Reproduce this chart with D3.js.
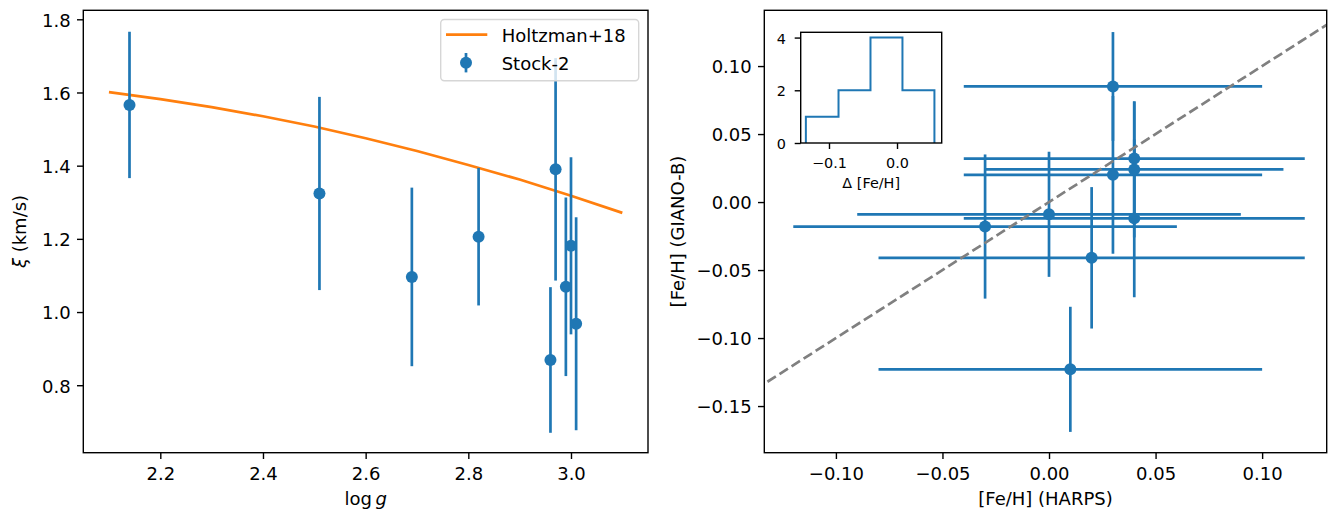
<!DOCTYPE html>
<html>
<head>
<meta charset="utf-8">
<script src="https://cdn.jsdelivr.net/npm/d3@7"></script>
<style>
  body { margin: 0; background: #fff; }
  svg { display: block; }
</style>
</head>
<body>
<svg id="chart" width="1331" height="510"></svg>
<script>
// chart values
// left panel: microturbulence vs log g
var logg = [2.14, 2.51, 2.69, 2.82, 2.96, 2.97, 2.99, 3.00, 3.01];
var xi = [1.566, 1.324, 1.096, 1.206, 0.869, 1.390, 1.069, 1.181, 0.968];
var xiErr = [0.200, 0.264, 0.244, 0.188, 0.199, 0.304, 0.244, 0.242, 0.291];
var holtzLogg = [2.1, 2.2, 2.3, 2.4, 2.5, 2.6, 2.7, 2.8, 2.9, 3.0, 3.1];
var holtzXi = [1.601, 1.582, 1.560, 1.535, 1.507, 1.475, 1.440, 1.402, 1.362, 1.318, 1.271];
var leftXTicks = [2.2, 2.4, 2.6, 2.8, 3.0];
var leftYTicks = [0.8, 1.0, 1.2, 1.4, 1.6, 1.8];

// right panel: [Fe/H] GIANO-B vs HARPS
var harps = [0.03, 0.03, 0.04, 0.04, 0.04, 0.00, -0.03, 0.02, 0.01];
var harpsErr = [0.07, 0.07, 0.08, 0.07, 0.08, 0.09, 0.09, 0.10, 0.09];
var giano = [0.085, 0.020, 0.032, 0.024, -0.012, -0.009, -0.018, -0.041, -0.123];
var gianoErr = [0.040, 0.058, 0.042, 0.050, 0.058, 0.046, 0.053, 0.052, 0.046];
var oneToOne = [-0.2, 0.2];
var rightXTicks = [-0.10, -0.05, 0.00, 0.05, 0.10];
var rightYTicks = [-0.15, -0.10, -0.05, 0.00, 0.05, 0.10];

// inset: histogram of delta [Fe/H]
var histEdges = [-0.134, -0.086, -0.039, 0.008, 0.055];
var histCounts = [1, 2, 4, 2];
var insetXTicks = [-0.1, 0.0];
var insetYTicks = [0, 2, 4];

var FONT = "'DejaVu Sans', sans-serif";
var C0 = "#1f77b4", C1 = "#ff7f0e";

var svg = d3.select("#chart");
svg.append("rect").attr("width", 1331).attr("height", 510).attr("fill", "#fff");

// panel boxes (pixels)
var L = {x0: 83.3, x1: 648, y0: 10.3, y1: 452.7};
var R = {x0: 764.3, x1: 1326.7, y0: 10.3, y1: 452.7};
var I = {x0: 800.7, x1: 941.7, y0: 32.3, y1: 143};

var xL = d3.scaleLinear().domain([2.05, 3.15]).range([L.x0, L.x1]);
var yL = d3.scaleLinear().domain([0.6156, 1.8246]).range([L.y1, L.y0]);
var xR = d3.scaleLinear().domain([-0.1336, 0.1303]).range([R.x0, R.x1]);
var yR = d3.scaleLinear().domain([-0.1843, 0.141]).range([R.y1, R.y0]);
var xI = d3.scaleLinear().domain([-0.1416, 0.0657]).range([I.x0, I.x1]);
var yI = d3.scaleLinear().domain([0, 4.2]).range([I.y1, I.y0]);

//draw ticks + labels for one axes
function drawAxes(box, x, y, xt, yt, fx, fy, fs, tl, padX, padY, dyX) {
    var gx = svg.append("g").attr("transform", "translate(0," + box.y1 + ")")
        .call(d3.axisBottom(x).tickValues(xt).tickFormat(fx).tickSizeOuter(0).tickSize(tl).tickPadding(padX));
    var gy = svg.append("g").attr("transform", "translate(" + box.x0 + ",0)")
        .call(d3.axisLeft(y).tickValues(yt).tickFormat(fy).tickSizeOuter(0).tickSize(tl).tickPadding(padY));
    [gx, gy].forEach(function(g) {
        g.select(".domain").remove();
        g.attr("font-family", FONT).attr("font-size", fs);
        g.selectAll("line").attr("stroke", "#000").attr("stroke-width", 1.4);
        g.selectAll("text").attr("fill", "#000");
    });
    gx.selectAll("text").attr("dy", dyX);
    gy.selectAll("text").attr("dy", "0.38em");
    svg.append("rect")
        .attr("x", box.x0).attr("y", box.y0)
        .attr("width", box.x1 - box.x0).attr("height", box.y1 - box.y0)
        .attr("fill", "none").attr("stroke", "#000").attr("stroke-width", 1.4);
}

function errorbars(x, y, xs, ys, xe, ye) {
    var g = svg.append("g");
    if (xe) {
        g.selectAll(".xe").data(xs).enter().append("line")
            .attr("x1", function(d, i) { return x(d - xe[i]); })
            .attr("x2", function(d, i) { return x(d + xe[i]); })
            .attr("y1", function(d, i) { return y(ys[i]); })
            .attr("y2", function(d, i) { return y(ys[i]); })
            .attr("stroke", C0).attr("stroke-width", 2.7);
    }
    g.selectAll(".ye").data(xs).enter().append("line")
        .attr("x1", function(d) { return x(d); })
        .attr("x2", function(d) { return x(d); })
        .attr("y1", function(d, i) { return y(ys[i] - ye[i]); })
        .attr("y2", function(d, i) { return y(ys[i] + ye[i]); })
        .attr("stroke", C0).attr("stroke-width", 2.7);
    g.selectAll("circle").data(xs).enter().append("circle")
        .attr("cx", function(d) { return x(d); })
        .attr("cy", function(d, i) { return y(ys[i]); })
        .attr("r", 6).attr("fill", C0);
}

// ---------- left panel
svg.append("path")
    .attr("d", d3.line().x(function(d, i) { return xL(d); }).y(function(d, i) { return yL(holtzXi[i]); })(holtzLogg))
    .attr("fill", "none").attr("stroke", C1).attr("stroke-width", 2.7);
errorbars(xL, yL, logg, xi, null, xiErr);
drawAxes(L, xL, yL, leftXTicks, leftYTicks, d3.format(".1f"), d3.format(".1f"), 18, 6.3, 6.3, 6.3, "0.82em");

// legend
var lg = svg.append("g").attr("font-family", FONT).attr("font-size", 18);
lg.append("rect").attr("x", 440.7).attr("y", 19.5).attr("width", 198).attr("height", 61.2)
    .attr("rx", 3.6).attr("fill", "#fff").attr("fill-opacity", 0.8)
    .attr("stroke", "#d6d6d6").attr("stroke-width", 1.4);
lg.append("line").attr("x1", 446).attr("x2", 487.3).attr("y1", 34.7).attr("y2", 34.7)
    .attr("stroke", C1).attr("stroke-width", 2.7);
lg.append("line").attr("x1", 466).attr("x2", 466).attr("y1", 53).attr("y2", 72.4)
    .attr("stroke", C0).attr("stroke-width", 2.7);
lg.append("circle").attr("cx", 466).attr("cy", 62.7).attr("r", 6).attr("fill", C0);
lg.append("text").attr("x", 501.7).attr("y", 41.7).text("Holtzman+18");
lg.append("text").attr("x", 501.7).attr("y", 70).text("Stock-2");

// axis labels
var lbl = svg.append("g").attr("font-family", FONT).attr("font-size", 18).attr("fill", "#000");
var xlab = lbl.append("text").attr("x", (L.x0 + L.x1) / 2).attr("y", 505).attr("text-anchor", "middle");
xlab.append("tspan").text("log\u2009");
xlab.append("tspan").attr("font-style", "italic").text("g");
var ylab = lbl.append("text").attr("transform", "translate(26," + (L.y0 + L.y1) / 2 + ") rotate(-90)")
    .attr("text-anchor", "middle");
ylab.append("tspan").attr("font-style", "italic").text("\u03be");
ylab.append("tspan").text(" (km/s)");

// ---------- right panel
svg.append("clipPath").attr("id", "clipR").append("rect")
    .attr("x", R.x0).attr("y", R.y0).attr("width", R.x1 - R.x0).attr("height", R.y1 - R.y0);
errorbars(xR, yR, harps, giano, harpsErr, gianoErr);
svg.append("path")
    .attr("clip-path", "url(#clipR)")
    .attr("d", d3.line().x(function(d) { return xR(d); }).y(function(d) { return yR(d); })(oneToOne))
    .attr("fill", "none").attr("stroke", "#808080").attr("stroke-width", 2.7)
    .attr("stroke-dasharray", "10,4.3");
drawAxes(R, xR, yR, rightXTicks, rightYTicks, d3.format(".2f"), d3.format(".2f"), 18, 6.3, 6.3, 6.3, "0.82em");
lbl.append("text").attr("x", (R.x0 + R.x1) / 2).attr("y", 505).attr("text-anchor", "middle")
    .text("[Fe/H] (HARPS)");
lbl.append("text").attr("transform", "translate(684," + (R.y0 + R.y1) / 2 + ") rotate(-90)")
    .attr("text-anchor", "middle").text("[Fe/H] (GIANO-B)");

// ---------- inset histogram
svg.append("rect").attr("x", I.x0).attr("y", I.y0).attr("width", I.x1 - I.x0).attr("height", I.y1 - I.y0)
    .attr("fill", "#fff");
var stepPts = [[histEdges[0], 0]];
histCounts.forEach(function(c, i) {
    stepPts.push([histEdges[i], c]);
    stepPts.push([histEdges[i + 1], c]);
});
stepPts.push([histEdges[histEdges.length - 1], 0]);
svg.append("path")
    .attr("d", d3.line().x(function(d) { return xI(d[0]); }).y(function(d) { return yI(d[1]); })(stepPts))
    .attr("fill", "none").attr("stroke", C0).attr("stroke-width", 2);
drawAxes(I, xI, yI, insetXTicks, insetYTicks, d3.format(".1f"), d3.format("d"), 14.4, 6, 6.3, 8.7, "0.86em");
lbl.append("text").attr("x", (I.x0 + I.x1) / 2).attr("y", 188).attr("text-anchor", "middle")
    .attr("font-size", 14.4).text("\u0394 [Fe/H]");
</script>
</body>
</html>
